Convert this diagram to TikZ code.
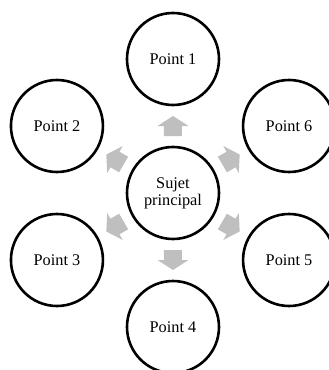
\documentclass[tikz,border=0pt]{standalone}
\usepackage{fontspec}
\setmainfont{Liberation Serif}
\usetikzlibrary{positioning,calc}

\begin{document}
\begin{tikzpicture}[
  x=1pt, y=1pt,
  circ/.style={circle, draw=black, line width=2.6pt, minimum size=92pt, inner sep=0pt,
               fill=white, font=\fontsize{16.3}{17}\selectfont, align=center},
  blockarrow/.style={fill=gray!50, draw=none}
]
\useasboundingbox (-173,-177) rectangle (156,193);

% Circles
\node[circ] (sujet) at (0,0) {Sujet\\principal};
\node[circ] (p1) at (90:134) {Point 1};
\node[circ] (p2) at (150:134) {Point 2};
\node[circ] (p3) at (210:134) {Point 3};
\node[circ] (p4) at (270:134) {Point 4};
\node[circ] (p5) at (330:134) {Point 5};
\node[circ] (p6) at (30:134) {Point 6};

% Arrows
\foreach \n/\a in {p1/90, p2/150, p3/210, p4/270, p5/330, p6/30}
  \fill[blockarrow, shift={($(sujet)!0.5!(\n)$)}, rotate=\a]
    (-10,-9) -- (0,-9) -- (0,-15.5) -- (10,0) -- (0,15.5) -- (0,9) -- (-10,9) -- cycle;
\end{tikzpicture}
\end{document}
